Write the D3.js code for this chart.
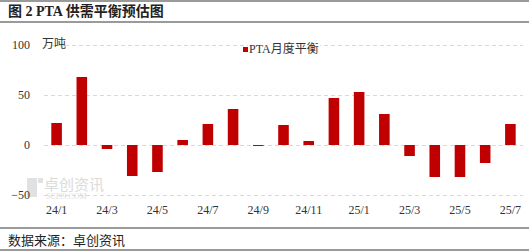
<!DOCTYPE html>
<html>
<head>
<meta charset="utf-8">
<script src="https://cdn.jsdelivr.net/npm/d3@7"></script>
<style>
  body { margin: 0; background: #fff; }
  svg { display: block; font-family: "Liberation Serif", "Noto Sans CJK SC", serif; }
</style>
</head>
<body>
<div id="chart"></div>
<script>
// data
var months = ["24/1","24/2","24/3","24/4","24/5","24/6","24/7","24/8","24/9","24/10","24/11","24/12",
              "25/1","25/2","25/3","25/4","25/5","25/6","25/7"];
var balance = [22, 68, -4, -31, -27, 5, 21, 36, -1, 20, 4, 47, 53, 31, -11, -32, -32, -18, 21];
var yTicks = [-50, 0, 50, 100];
var xLabels = ["24/1","24/3","24/5","24/7","24/9","24/11","25/1","25/3","25/5","25/7"];

var W = 529, H = 251;
var plot = {left: 44, right: 523, top: 45, bottom: 195};

var svg = d3.select("#chart").append("svg")
    .attr("width", W)
    .attr("height", H);

// frame lines (title bar + footer)
svg.append("rect").attr("x", 0).attr("y", 0).attr("width", W).attr("height", 2).attr("fill", "#9a9a9a");
svg.append("rect").attr("x", 0).attr("y", 21).attr("width", W).attr("height", 2).attr("fill", "#9a9a9a");
svg.append("rect").attr("x", 0).attr("y", 227).attr("width", W).attr("height", 2).attr("fill", "#9a9a9a");
svg.append("rect").attr("x", 0).attr("y", 249).attr("width", W).attr("height", 2).attr("fill", "#9a9a9a");

svg.append("text")
    .attr("x", 8).attr("y", 16)
    .attr("font-size", 14).attr("font-weight", "bold").attr("fill", "#222")
    .text("图 2 PTA 供需平衡预估图");

svg.append("text")
    .attr("x", 8).attr("y", 245)
    .attr("font-size", 13).attr("fill", "#222")
    .text("数据来源：卓创资讯");

// watermark
var wm = svg.append("g").attr("opacity", 0.35);
wm.append("rect").attr("x", 27).attr("y", 178).attr("width", 10).attr("height", 19).attr("fill", "#aaa");
wm.append("rect").attr("x", 38).attr("y", 178).attr("width", 5).attr("height", 5).attr("fill", "#aaa");
wm.append("text").attr("x", 44).attr("y", 190).attr("font-size", 15).attr("fill", "#999").text("卓创资讯");
wm.append("text").attr("x", 46).attr("y", 199).attr("font-size", 8).attr("fill", "#999").text("SCI99.COM");

var x = d3.scaleBand()
    .domain(months)
    .range([plot.left, plot.right])
    .paddingInner(0.58)
    .paddingOuter(0.29);

var y = d3.scaleLinear()
    .domain([-50, 100])
    .range([plot.bottom, plot.top]);

// gridlines
svg.append("g")
    .selectAll("line")
    .data(yTicks)
    .join("line")
    .attr("x1", plot.left).attr("x2", plot.right)
    .attr("y1", function(d) { return y(d) + 0.5; })
    .attr("y2", function(d) { return y(d) + 0.5; })
    .attr("stroke", "#d9d9d9")
    .attr("stroke-dasharray", "4,3");

// y axis labels
var yAxis = svg.append("g")
    .attr("transform", "translate(30,0)")
    .call(d3.axisLeft(y).tickValues(yTicks).tickSize(0).tickPadding(0));
yAxis.select(".domain").remove();
yAxis.selectAll("text").attr("font-size", 12).attr("font-family", "Liberation Serif").attr("fill", "#333");

// bars
svg.append("g")
    .selectAll("rect")
    .data(balance)
    .join("rect")
    .attr("x", function(d, i) { return x(months[i]); })
    .attr("width", x.bandwidth())
    .attr("y", function(d) { return y(Math.max(0, d)); })
    .attr("height", function(d) { return Math.abs(y(d) - y(0)); })
    .attr("fill", "#c00000");

// x axis labels
var xAxis = svg.append("g")
    .attr("transform", "translate(0,201)")
    .call(d3.axisBottom(x).tickValues(xLabels).tickSize(0).tickPadding(4));
xAxis.select(".domain").remove();
xAxis.selectAll("text").attr("font-size", 12).attr("font-family", "Liberation Serif").attr("fill", "#333");

// unit
svg.append("text")
    .attr("x", 42).attr("y", 48)
    .attr("font-size", 12).attr("fill", "#333")
    .text("万吨");

// legend
var lg = svg.append("g").attr("transform", "translate(243,43)");
lg.append("rect").attr("x", 0).attr("y", 4).attr("width", 5).attr("height", 5).attr("fill", "#c00000");
lg.append("rect").attr("x", 5).attr("y", -1).attr("width", 72).attr("height", 14).attr("fill", "#fff");
lg.append("text").attr("x", 6).attr("y", 10).attr("font-size", 12).attr("fill", "#333").text("PTA月度平衡");
</script>
</body>
</html>
